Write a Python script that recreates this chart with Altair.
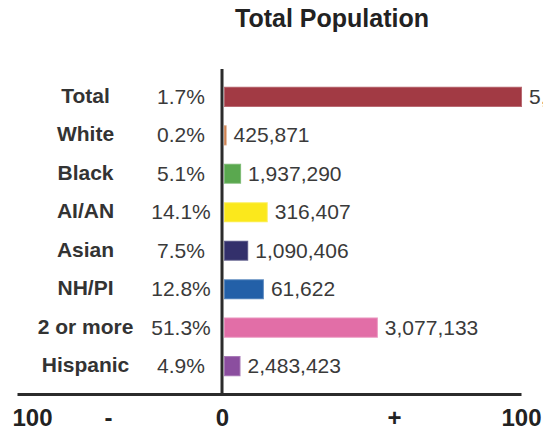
import altair as alt
import pandas as pd

# Population change by group
groups = ["Total", "White", "Black", "AI/AN", "Asian", "NH/PI", "2 or more", "Hispanic"]
pct_change = [1.7, 0.2, 5.1, 14.1, 7.5, 12.8, 51.3, 4.9]
# bar lengths on the -/+ 100 scale (the Total bar runs the full scale)
bar_value = [100, 0.2, 5.1, 14.1, 7.5, 12.8, 51.3, 4.9]
counts = [5400000, 425871, 1937290, 316407, 1090406, 61622, 3077133, 2483423]
colors = ["#a23a44", "#c8743f", "#5aa84f", "#fbe81c", "#33306b", "#2360a8", "#e26ea7", "#8b4e9f"]

# bottom scale labels
tick_text = ["100", "-", "0", "+", "100"]
tick_at = [-64.2, -38.5, 0, 58.1, 101]

df = pd.DataFrame({
    "group": groups,
    "pct": pct_change,
    "bar": bar_value,
    "count": counts,
    "color": colors,
})
df["pct_label"] = [f"{p:.1f}%" for p in pct_change]
df["count_label"] = [f"{c:,}" for c in counts]

FONT = "Liberation Sans"
INK = "#2b2b2b"

label_expr = " : ".join(
    f"datum.value == {v} ? '{t}'" for v, t in zip(tick_at, tick_text)
) + " : ''"

x_scale = alt.Scale(domain=[-69.26, 101.01], nice=False, zero=False)
y_enc = alt.Y(
    "group:N",
    sort=groups,
    scale=alt.Scale(paddingInner=0.53, paddingOuter=0.49),
    axis=alt.Axis(
        title=None, domain=False, ticks=False, grid=False,
        orient="left", offset=-68, labelPadding=0,
        labelAlign="center", labelBaseline="middle",
        labelFont=FONT, labelFontSize=21, labelFontWeight="bold",
        labelColor="#333333", labelLimit=0,
    ),
)

base = alt.Chart(df)

bars = base.mark_bar(xOffset=3, strokeWidth=2, strokeOpacity=0.75).encode(
    x=alt.X(
        "bar:Q",
        scale=x_scale,
        axis=alt.Axis(
            title=None, grid=False, ticks=False,
            domain=True, domainColor=INK, domainWidth=3,
            values=tick_at, labelExpr=label_expr,
            labelFlush=False, labelOverlap=False, labelPadding=12,
            labelFont=FONT, labelFontSize=24, labelFontWeight="bold",
            labelColor="#222222", labelBaseline="top",
        ),
    ),
    y=y_enc,
    color=alt.Color("color:N", scale=None),
    stroke=alt.Stroke("color:N", scale=None),
)

count_text = base.mark_text(
    align="left", baseline="middle", dx=11, dy=1,
    font=FONT, fontSize=21, color="#3a3a3a",
).encode(
    x=alt.X("bar:Q", scale=x_scale),
    y=alt.Y("group:N", sort=groups),
    text="count_label:N",
)

pct_text = base.mark_text(
    align="center", baseline="middle", dy=1,
    font=FONT, fontSize=21, color="#3a3a3a",
).encode(
    x=alt.value(164),
    y=alt.Y("group:N", sort=groups),
    text="pct_label:N",
)

zero_line = alt.Chart(pd.DataFrame({"zero": [0]})).mark_rule(
    color=INK, strokeWidth=3
).encode(x=alt.X("zero:Q", scale=x_scale))

chart = (
    alt.layer(bars, count_text, pct_text, zero_line)
    .properties(
        width=504,
        height=325,
        padding={"left": 17, "top": 69, "right": 22, "bottom": 36},
        autosize=alt.AutoSizeParams(type="none"),
        title=alt.TitleParams(
            "Total Population",
            font=FONT, fontSize=25, fontWeight="bold", color="#222222",
            anchor="middle", dx=63, offset=36,
        ),
        background="white",
    )
    .configure_view(stroke=None)
)

chart.save("out.html", embed_options={"renderer": "svg", "actions": False})
